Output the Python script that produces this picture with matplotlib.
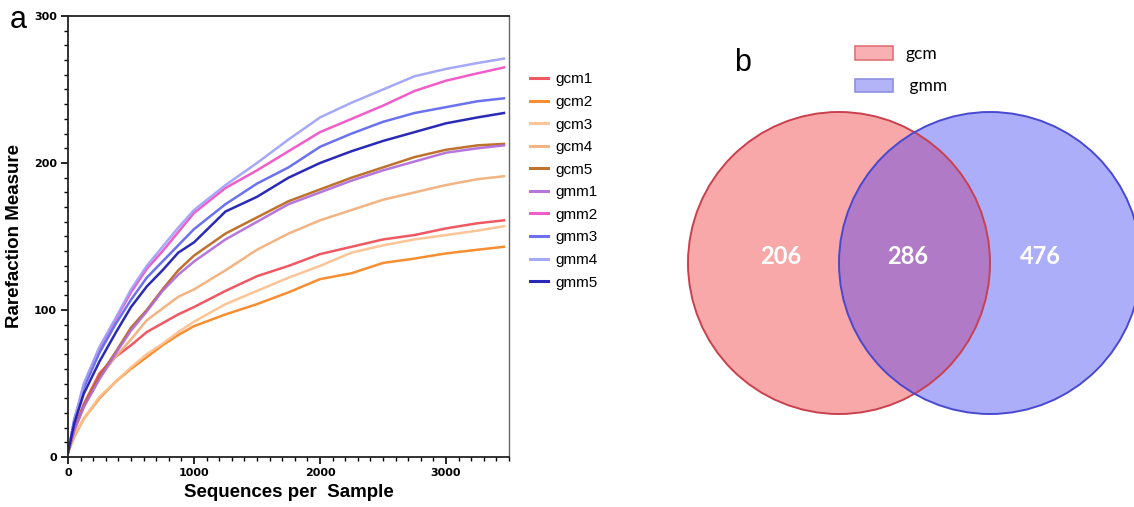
import matplotlib.pyplot as plt
from matplotlib.patches import Circle, Patch
from matplotlib.ticker import MultipleLocator

# rarefaction curves (sequences per sample vs. observed richness)
depth = [0, 50, 125, 250, 375, 500, 625, 750, 875, 1000, 1250, 1500,
         1750, 2000, 2250, 2500, 2750, 3000, 3250, 3460]

gcm1 = [3, 19, 36, 57, 68, 76, 85, 91, 97, 102, 113, 123, 130, 138, 143, 148, 151, 155.5, 159, 161]
gcm2 = [3, 14, 26, 40, 51, 60, 68, 76, 83, 89, 97, 104, 112, 121, 125, 132, 135, 138.5, 141, 143]
gcm3 = [3, 15, 26, 41, 51, 61, 70, 77, 85, 92, 104, 113, 122, 130, 139, 144, 148, 151, 154, 157]
gcm4 = [3, 18, 34, 54, 68, 80, 93, 101, 109, 114, 127, 141, 152, 161, 168, 175, 180, 185, 189, 191]
gcm5 = [3, 19, 35, 55, 71, 88, 100, 114, 127, 137, 152, 163, 174, 182, 190, 197, 204, 209, 212, 213]
gmm1 = [3, 18, 34, 53, 70, 86, 99, 113, 124, 133, 148, 160, 172, 180, 188, 195, 201, 207, 210, 212]
gmm2 = [3, 24, 49, 74, 93, 112, 128, 140, 153, 166, 183, 195, 208, 221, 230, 239, 249, 256, 261, 265]
gmm3 = [3, 26, 47, 71, 90, 107, 122, 133, 144, 155, 172, 186, 197, 211, 220, 228, 234, 238, 242, 244]
gmm4 = [3, 25, 50, 75, 94, 114, 130, 143, 156, 168, 185, 200, 216, 231, 241, 250, 259, 264, 268, 271]
gmm5 = [3, 23, 43, 65, 84, 102, 116, 127, 139, 146, 167, 177, 190, 200, 208, 215, 221, 227, 231, 234]

sample_names = ["gcm1", "gcm2", "gcm3", "gcm4", "gcm5",
                "gmm1", "gmm2", "gmm3", "gmm4", "gmm5"]
sample_values = [gcm1, gcm2, gcm3, gcm4, gcm5, gmm1, gmm2, gmm3, gmm4, gmm5]
sample_colors = ["#EE4B57", "#F7841F", "#FDC08E", "#F2AE78", "#B8661C",
                 "#B06AD8", "#F04FC6", "#5F66EE", "#9EA2F8", "#1818B0"]

# shared OTUs between the two groups
venn_only_gcm = 206
venn_shared = 286
venn_only_gmm = 476

fig = plt.figure(figsize=(11.34, 5.07), dpi=100)

# ---- panel a ----
ax = fig.add_axes([68 / 1134, 1 - 457 / 507, 441 / 1134, 441 / 507])
for name, vals, col in zip(sample_names, sample_values, sample_colors):
    ax.plot(depth, vals, color=col, lw=1.8, alpha=0.92, label=name)

ax.set_xlim(0, 3500)
ax.set_ylim(0, 300)
ax.xaxis.set_major_locator(MultipleLocator(1000))
ax.xaxis.set_minor_locator(MultipleLocator(100))
ax.yaxis.set_major_locator(MultipleLocator(100))
ax.yaxis.set_minor_locator(MultipleLocator(10))
ax.tick_params(which="major", length=5, width=1.2, direction="out", pad=3)
ax.tick_params(which="minor", length=3, width=1.0, direction="out")
for lab in ax.get_xticklabels() + ax.get_yticklabels():
    lab.set_fontweight("bold")
    lab.set_fontsize(8)
for side in ["left", "bottom", "top"]:
    ax.spines[side].set_linewidth(1.3)
    ax.spines[side].set_color("#222222")
ax.spines["right"].set_linewidth(1.0)
ax.spines["right"].set_color("#666666")

ax.set_xlabel("Sequences per  Sample", fontsize=13.5, fontweight="bold",
              family="Liberation Sans", labelpad=4)
ax.set_ylabel("Rarefaction Measure", fontsize=13.5, fontweight="bold",
              family="Liberation Sans", labelpad=8)

leg = ax.legend(loc="center left", bbox_to_anchor=(530 / 1134, 1 - 181 / 507),
                bbox_transform=fig.transFigure, frameon=False,
                handlelength=1.15, handletextpad=0.5, labelspacing=0.56,
                borderpad=0, borderaxespad=0, prop={"family": "Liberation Sans", "size": 11})
for line in leg.get_lines():
    line.set_linewidth(2.2)

fig.text(10 / 1134, 1 - 20 / 507, "a", fontsize=22, va="center", ha="left",
         family="Liberation Sans")

# ---- panel b ----
r_px = 151
bx = fig.add_axes([680 / 1134, 0, 454 / 1134, 1])
bx.set_xlim(680, 1134)
bx.set_ylim(507, 0)
bx.set_aspect("equal")
bx.axis("off")

cx_left, cx_right, cy = 839, 990, 263
left_fill = Circle((cx_left, cy), r_px, facecolor="#F9A8AA", edgecolor="none", zorder=1)
right_fill = Circle((cx_right, cy), r_px, facecolor="#ACAEFA", edgecolor="none", zorder=1)
bx.add_patch(left_fill)
bx.add_patch(right_fill)
overlap = Circle((cx_right, cy), r_px, facecolor="#B07AC6", edgecolor="none", zorder=2)
bx.add_patch(overlap)
overlap.set_clip_path(left_fill)
bx.add_patch(Circle((cx_left, cy), r_px, facecolor="none", edgecolor="#C9404E",
                    lw=1.4, zorder=3))
bx.add_patch(Circle((cx_right, cy), r_px, facecolor="none", edgecolor="#4848D0",
                    lw=1.4, zorder=3))

num_style = dict(color="white", fontsize=17, fontweight="bold", family="Lato",
                 ha="center", va="center", zorder=4)
bx.text(781, 257, str(venn_only_gcm), **num_style)
bx.text(908, 257, str(venn_shared), **num_style)
bx.text(1040, 257, str(venn_only_gmm), **num_style)

fig.text(743 / 1134, 1 - 63 / 507, "b", fontsize=22, va="center", ha="center",
         family="Liberation Sans")

group_handles = [Patch(facecolor="#F8B0B2", edgecolor="#E07278", lw=1.2),
                 Patch(facecolor="#B3B3F8", edgecolor="#9090E2", lw=1.2)]
fig.legend(group_handles, ["gcm", " gmm"], loc="upper left",
           bbox_to_anchor=(855 / 1134, 1 - 46 / 507), frameon=False,
           handlelength=2.2, handleheight=0.8, handletextpad=0.7,
           labelspacing=0.95, borderpad=0, borderaxespad=0,
           prop={"family": "Lato", "size": 12.5})

fig.savefig("out.png", dpi=100)
